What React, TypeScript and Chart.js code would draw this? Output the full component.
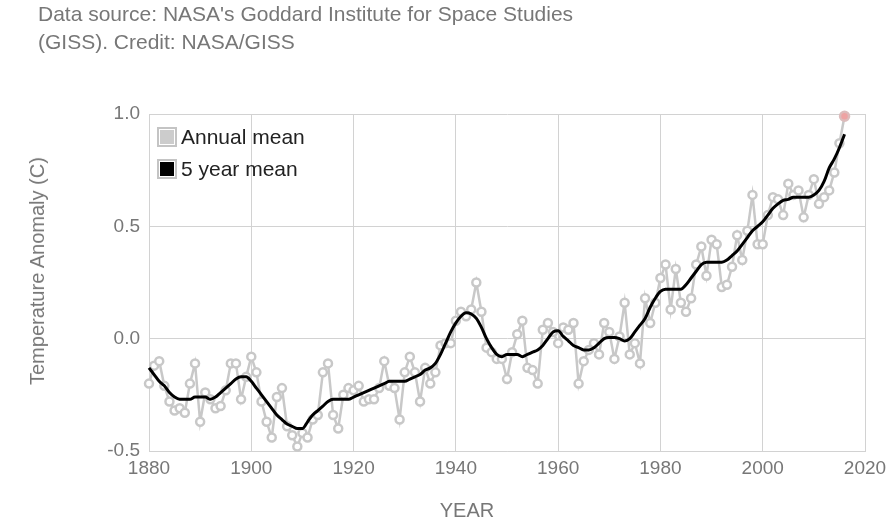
import React, { useEffect, useRef } from "react";
import { Chart, registerables } from "chart.js";

Chart.register(...registerables);

const FIRST_YEAR = 1880;

// Annual mean temperature anomaly (C), 1880..2016
const annualMean = [
  -0.20, -0.12, -0.10, -0.21, -0.28, -0.32, -0.31, -0.33, -0.20, -0.11,
  -0.37, -0.24, -0.27, -0.31, -0.30, -0.23, -0.11, -0.11, -0.27, -0.17,
  -0.08, -0.15, -0.28, -0.37, -0.44, -0.26, -0.22, -0.39, -0.43, -0.48,
  -0.42, -0.44, -0.36, -0.34, -0.15, -0.11, -0.34, -0.40, -0.25, -0.22,
  -0.23, -0.21, -0.28, -0.27, -0.27, -0.22, -0.10, -0.21, -0.22, -0.36,
  -0.15, -0.08, -0.15, -0.28, -0.13, -0.20, -0.15, -0.03, -0.02, -0.02,
  0.08, 0.12, 0.10, 0.13, 0.25, 0.12, -0.04, -0.06, -0.09, -0.09,
  -0.18, -0.06, 0.02, 0.08, -0.13, -0.14, -0.20, 0.04, 0.07, 0.03,
  -0.02, 0.05, 0.04, 0.07, -0.20, -0.10, -0.05, -0.02, -0.07, 0.07,
  0.03, -0.09, 0.01, 0.16, -0.07, -0.02, -0.11, 0.18, 0.07, 0.16,
  0.27, 0.33, 0.13, 0.31, 0.16, 0.12, 0.18, 0.33, 0.41, 0.28,
  0.44, 0.42, 0.23, 0.24, 0.32, 0.46, 0.35, 0.48, 0.64, 0.42,
  0.42, 0.55, 0.63, 0.62, 0.55, 0.69, 0.64, 0.66, 0.54, 0.64,
  0.71, 0.60, 0.63, 0.66, 0.74, 0.87, 0.99,
];

// 5 year (lowess) mean, 1880..2016
const fiveYearMean = [
  -0.13, -0.16, -0.19, -0.21, -0.24, -0.26, -0.27, -0.27, -0.27, -0.26,
  -0.26, -0.26, -0.27, -0.26, -0.24, -0.22, -0.20, -0.18, -0.17, -0.17,
  -0.19, -0.22, -0.25, -0.28, -0.31, -0.34, -0.36, -0.38, -0.39, -0.40,
  -0.40, -0.37, -0.34, -0.32, -0.30, -0.28, -0.27, -0.27, -0.27, -0.27,
  -0.26, -0.25, -0.24, -0.23, -0.22, -0.21, -0.20, -0.19, -0.19, -0.19,
  -0.19, -0.18, -0.17, -0.16, -0.14, -0.13, -0.11, -0.07, -0.02, 0.03,
  0.07, 0.10, 0.115, 0.11, 0.09, 0.05, 0.00, -0.04, -0.07, -0.08,
  -0.07, -0.07, -0.07, -0.08, -0.07, -0.06, -0.05, -0.03, 0.00, 0.03,
  0.035, 0.01, -0.01, -0.03, -0.04, -0.05, -0.05, -0.04, -0.02, 0.00,
  0.005, 0.005, 0.00, -0.01, 0.00, 0.03, 0.06, 0.09, 0.14, 0.18,
  0.21, 0.22, 0.22, 0.22, 0.22, 0.24, 0.27, 0.30, 0.33, 0.34,
  0.34, 0.34, 0.34, 0.35, 0.37, 0.39, 0.42, 0.45, 0.48, 0.50,
  0.52, 0.55, 0.58, 0.60, 0.615, 0.62, 0.63, 0.63, 0.63, 0.63,
  0.64, 0.66, 0.70, 0.76, 0.80, 0.85, 0.91,
];

const xTickValues = [1880, 1900, 1920, 1940, 1960, 1980, 2000, 2020];
const yTickValues = [-0.5, 0, 0.5, 1.0];

const captionLines = [
  "Data source: NASA's Goddard Institute for Space Studies",
  "(GISS). Credit: NASA/GISS",
];
const yTitle = "Temperature Anomaly (C)";
const xTitle = "YEAR";
const legendLabels = ["Annual mean", "5 year mean"];

const FONT = '"Liberation Sans", Arial, sans-serif';
const GRID = "#d2d2d2";
const TEXT_GRAY = "#777777";
const ANNUAL = "#c8c8c8";

export default function App() {
  const canvasRef = useRef<HTMLCanvasElement | null>(null);

  useEffect(() => {
    const canvas = canvasRef.current;
    if (!canvas) return;
    const annualPts = annualMean.map((v, i) => ({ x: FIRST_YEAR + i, y: v }));
    const fivePts = fiveYearMean.map((v, i) => ({ x: FIRST_YEAR + i, y: v }));
    const lastIdx = annualPts.length - 1;

    const chart = new Chart(canvas, {
      type: "line",
      data: {
        datasets: [
          {
            label: legendLabels[1],
            data: fivePts,
            borderColor: "#000",
            borderWidth: 3,
            pointRadius: 0,
            cubicInterpolationMode: "monotone",
            order: 0,
            clip: false,
          },
          {
            label: legendLabels[0],
            data: annualPts,
            borderColor: ANNUAL,
            borderWidth: 2.5,
            pointRadius: annualPts.map((_, i) => (i === lastIdx ? 4.5 : 4)),
            pointBorderWidth: 2.5,
            pointBorderColor: annualPts.map((_, i) => (i === lastIdx ? "#dcbcbc" : ANNUAL)),
            pointBackgroundColor: annualPts.map((_, i) => (i === lastIdx ? "#eea3a3" : "#ffffff")),
            tension: 0,
            order: 1,
            clip: false,
          },
        ],
      },
      options: {
        animation: false,
        responsive: false,
        maintainAspectRatio: false,
        layout: { padding: { left: 0, top: 114, right: 30, bottom: 0 } },
        plugins: {
          legend: { display: false },
          tooltip: { enabled: false },
          title: { display: false },
        },
        scales: {
          x: {
            type: "linear",
            min: 1880,
            max: 2020,
            afterBuildTicks: (scale: any) => {
              scale.ticks = xTickValues.map((v) => ({ value: v }));
            },
            afterFit: (scale: any) => {
              scale.height = 74;
            },
            grid: { color: GRID, lineWidth: 1, drawTicks: false },
            border: { display: true, color: GRID, width: 1 },
            ticks: {
              color: TEXT_GRAY,
              font: { family: FONT, size: 19 },
              padding: 6,
              maxRotation: 0,
              autoSkip: false,
              callback: (v: any) => String(v),
            },
          },
          y: {
            type: "linear",
            min: -0.5,
            max: 1.0,
            afterBuildTicks: (scale: any) => {
              scale.ticks = yTickValues.map((v) => ({ value: v }));
            },
            afterFit: (scale: any) => {
              scale.width = 149;
            },
            grid: { color: GRID, lineWidth: 1, drawTicks: false },
            border: { display: true, color: GRID, width: 1 },
            ticks: {
              color: TEXT_GRAY,
              font: { family: FONT, size: 19 },
              padding: 9,
              autoSkip: false,
              callback: (v: any) => Number(v).toFixed(1),
            },
          },
        },
      },
    });
    return () => chart.destroy();
  }, []);

  return (
    <div
      style={{
        position: "fixed",
        left: 0,
        top: 0,
        width: 895,
        height: 525,
        background: "#fff",
        overflow: "hidden",
        fontFamily: FONT,
      }}
    >
      <canvas ref={canvasRef} width={895} height={525} style={{ position: "absolute", left: 0, top: 0, width: 895, height: 525 }} />
      <div
        style={{
          position: "absolute",
          left: 38,
          top: 0,
          fontSize: 21,
          lineHeight: "28px",
          color: TEXT_GRAY,
          whiteSpace: "nowrap",
        }}
      >
        {captionLines.map((l, i) => (
          <div key={i}>{l}</div>
        ))}
      </div>
      <div
        style={{
          position: "absolute",
          left: 37,
          top: 271,
          transform: "translate(-50%, -50%) rotate(-90deg)",
          fontSize: 20,
          lineHeight: "22px",
          color: TEXT_GRAY,
          whiteSpace: "nowrap",
        }}
      >
        {yTitle}
      </div>
      <div
        style={{
          position: "absolute",
          left: 467,
          top: 499,
          transform: "translateX(-50%)",
          fontSize: 20,
          lineHeight: "22px",
          color: TEXT_GRAY,
          whiteSpace: "nowrap",
        }}
      >
        {xTitle}
      </div>
      {legendLabels.map((l, i) => (
        <div key={l}>
          <div
            style={{
              position: "absolute",
              left: 157,
              top: 127 + i * 32,
              width: 20,
              height: 20,
              boxSizing: "border-box",
              border: "2px solid #c4c4c4",
              padding: 1,
              background: "#fff",
            }}
          >
            <div style={{ width: "100%", height: "100%", background: i === 0 ? "#cccccc" : "#000" }} />
          </div>
          <div
            style={{
              position: "absolute",
              left: 181,
              top: 126 + i * 32,
              fontSize: 21,
              lineHeight: "21px",
              color: "#222",
              whiteSpace: "nowrap",
            }}
          >
            {l}
          </div>
        </div>
      ))}
    </div>
  );
}
